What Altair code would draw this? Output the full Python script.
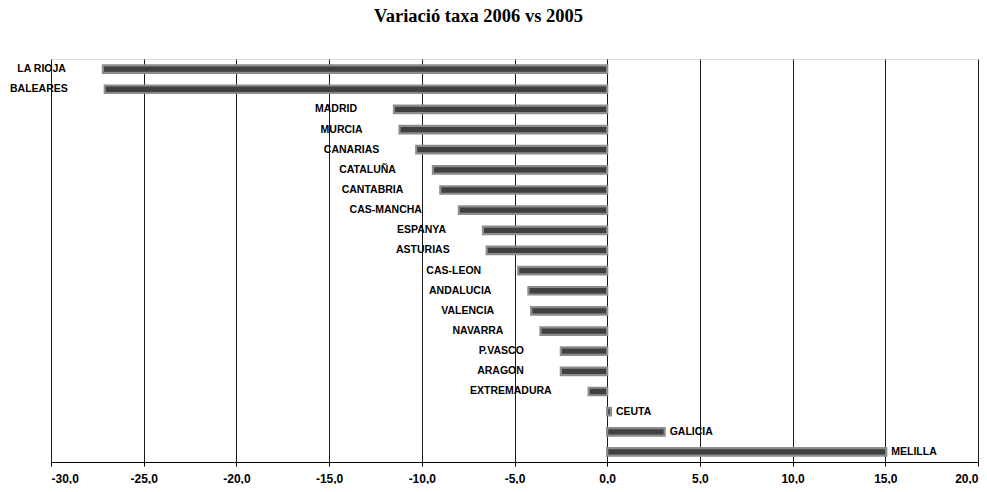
import altair as alt
import pandas as pd

regions = ["LA RIOJA", "BALEARES", "MADRID", "MURCIA", "CANARIAS", "CATALUÑA",
           "CANTABRIA", "CAS-MANCHA", "ESPANYA", "ASTURIAS", "CAS-LEON",
           "ANDALUCIA", "VALENCIA", "NAVARRA", "P.VASCO", "ARAGON",
           "EXTREMADURA", "CEUTA", "GALICIA", "MELILLA"]
values = [-27.2, -27.1, -11.5, -11.2, -10.3, -9.4, -9.0, -8.0, -6.7, -6.5,
          -4.8, -4.25, -4.1, -3.6, -2.5, -2.5, -1.0, 0.2, 3.1, 15.05]
tick_values = [-30, -25, -20, -15, -10, -5, 0, 5, 10, 15, 20]

df = pd.DataFrame({"region": regions, "value": values})

x = alt.X("value:Q",
          scale=alt.Scale(domain=[-30, 20], nice=False, zero=False),
          axis=alt.Axis(values=tick_values, title=None, grid=True,
                        gridColor="#1a1a1a", gridWidth=1,
                        domainColor="#000", tickColor="#000", tickSize=4,
                        labelPadding=7, labelFont="Liberation Sans",
                        labelFontSize=12, labelFontWeight="bold",
                        labelColor="#000",
                        labelExpr="replace(replace(format(datum.value, '.1f'), '.', ','), '\u2212', '-')"))
y = alt.Y("region:N", sort=regions,
          scale=alt.Scale(paddingInner=0, paddingOuter=0),
          axis=None)

base = alt.Chart(df)

bars = base.mark_bar(size=7.5, color="#404040", stroke="#8c8c8c",
                     strokeWidth=2.2).encode(x=x, y=y)

neg_labels = base.transform_filter("datum.value < 0").mark_text(
    align="right", baseline="middle", dx=-37, font="Liberation Sans",
    fontSize=10.5, fontWeight="bold", color="#000").encode(
    x="value:Q", y=alt.Y("region:N", sort=regions), text="region:N")

pos_labels = base.transform_filter("datum.value >= 0").mark_text(
    align="left", baseline="middle", dx=5, font="Liberation Sans",
    fontSize=10.5, fontWeight="bold", color="#000").encode(
    x="value:Q", y=alt.Y("region:N", sort=regions), text="region:N")

chart = alt.layer(bars, neg_labels, pos_labels).properties(
    width=927, height=403,
    title=alt.TitleParams("Variació taxa 2006 vs 2005",
                          font="Liberation Serif", fontSize=18.5,
                          fontWeight="bold", color="#000",
                          anchor="middle", dx=-36, offset=19,
                          baseline="alphabetic"),
    autosize=alt.AutoSizeParams(type="none"),
    padding={"left": 43, "top": 51, "right": 1, "bottom": 22},
).configure_view(stroke="#000", strokeWidth=1).configure(background="white")

chart.save("out.html", embed_options={"renderer": "svg", "actions": False})
